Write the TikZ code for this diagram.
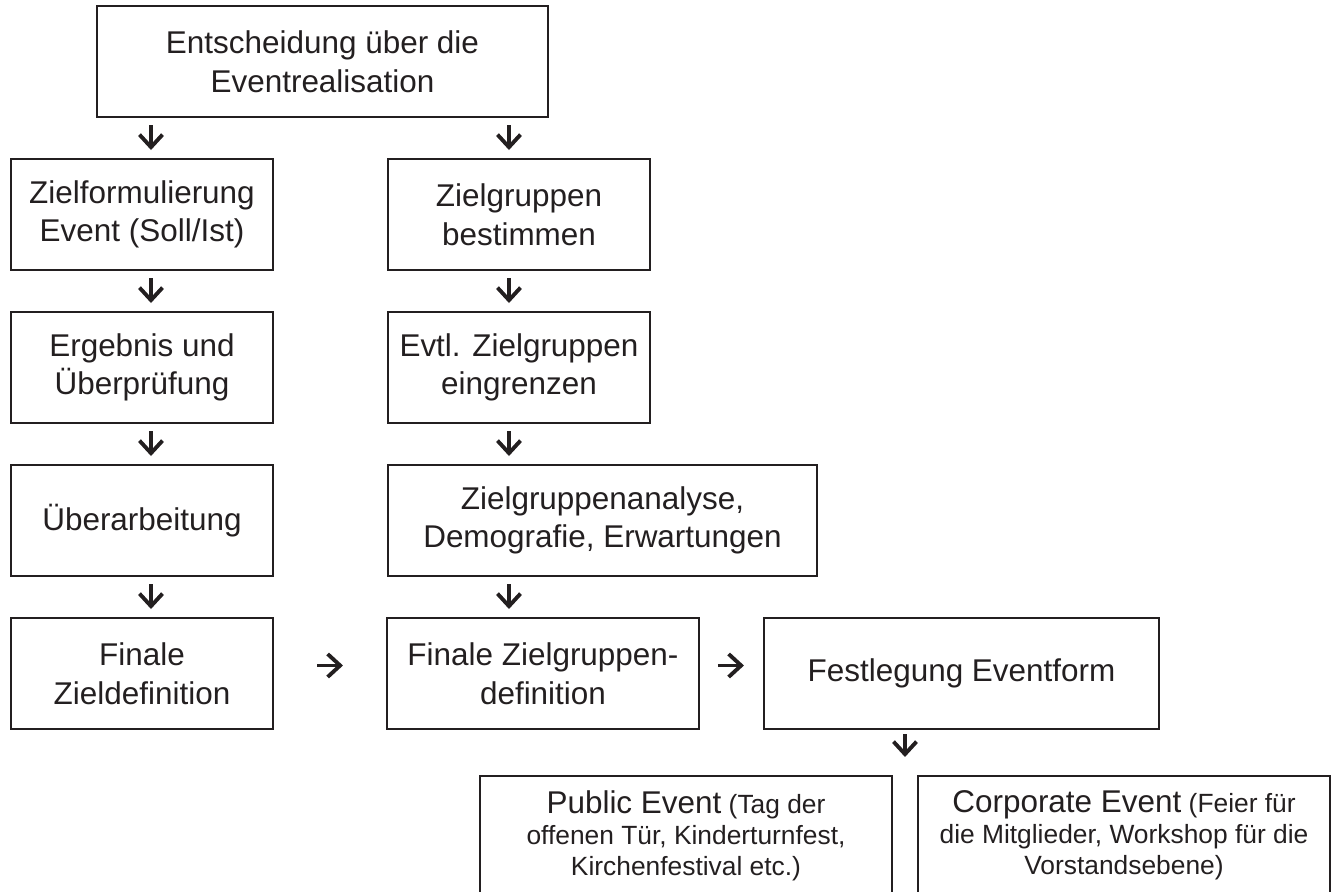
\documentclass[tikz,border=0pt]{standalone}
\usepackage{fontspec}
\setmainfont{Liberation Sans}
\usetikzlibrary{arrows.meta, positioning, calc}
\definecolor{linie}{RGB}{35,31,32}

\begin{document}
\begin{tikzpicture}[
        node distance=0.42cm and 1.15cm,
        % Kaesten
        kasten/.style={
                rectangle,
                draw=linie,
                line width=0.8pt,
                minimum width=2.62cm,
                minimum height=1.11cm,
                inner sep=0pt,
                outer sep=0pt,
                align=center,
                text=linie,
                font=\fontsize{8.95}{11}\selectfont
            },
        % Kaesten unten (kleine Schrift)
        typkasten/.style={
                kasten,
                anchor=north west,
                minimum width=4.12cm,
                minimum height=1.19cm,
                font=\fontsize{7.5}{8.8}\selectfont
            },
        % Pfeile
        pfeil/.style={
                -{Straight Barb[length=1.25mm, width=2.3mm]},
                line width=1.1pt,
                color=linie
            }
    ]

    \useasboundingbox (0,0) rectangle (13.38,-8.92);
    \clip (0,0) rectangle (13.38,-8.92);

    % ENTSCHEIDUNG (oben)
    \node[kasten, minimum width=4.51cm] (entscheidung) at (3.225,-0.615) {Entscheidung über die\\Eventrealisation};

    % ZIELE (links)
    \node[kasten] (ziel1) at (1.42,-2.145) {Zielformulierung\\Event (Soll/Ist)};
    \node[kasten, below=of ziel1] (ziel2) {Ergebnis und\\Überprüfung};
    \node[kasten, below=of ziel2] (ziel3) {Überarbeitung};
    \node[kasten, below=of ziel3] (ziel4) {Finale\\Zieldefinition};

    % ZIELGRUPPEN (Mitte)
    \node[kasten, right=of ziel1] (gruppe1) {Zielgruppen\\bestimmen};
    \node[kasten, below=of gruppe1] (gruppe2) {Evtl. Zielgruppen\\eingrenzen};
    \node[kasten, minimum width=4.29cm, below=of gruppe2, xshift=0.835cm] (gruppe3) {Zielgruppenanalyse,\\Demografie, Erwartungen};
    \node[kasten, minimum width=3.12cm, right=1.14cm of ziel4] (gruppe4) {Finale Zielgruppen-\\definition};

    % EVENTFORM (rechts)
    \node[kasten, minimum width=3.95cm, right=0.65cm of gruppe4] (festlegung) {Festlegung Eventform};

    % EVENTTYPEN (unten)
    \node[typkasten] (public) at (4.80,-7.76) {{\fontsize{8.95}{8.8}\selectfont Public Event} (Tag der\\offenen Tür, Kinderturnfest,\\Kirchenfestival etc.)};
    \node[typkasten] (corporate) at (9.18,-7.76) {{\fontsize{8.95}{8.8}\selectfont Corporate Event} (Feier für\\die Mitglieder, Workshop für die\\Vorstandsebene)};

    % PFEILE
    \coordinate (spalteL) at (1.51,0);
    \coordinate (spalteM) at (5.09,0);
    \coordinate (eventtyp) at ($(public.north east)!0.5!(corporate.north west)$);

    \foreach \von/\nach in {entscheidung/ziel1, ziel1/ziel2, ziel2/ziel3, ziel3/ziel4}
        \draw[pfeil, shorten <=0.08cm, shorten >=0.09cm] (\von.south -| spalteL) -- (\nach.north -| spalteL);
    \foreach \von/\nach in {entscheidung/gruppe1, gruppe1/gruppe2, gruppe2/gruppe3, gruppe3/gruppe4}
        \draw[pfeil, shorten <=0.08cm, shorten >=0.09cm] (\von.south -| spalteM) -- (\nach.north -| spalteM);

    \draw[pfeil, shorten <=0.44cm, shorten >=0.44cm] ([yshift=0.08cm]ziel4.east) -- ([yshift=0.08cm]gruppe4.west);
    \draw[pfeil, shorten <=0.19cm, shorten >=0.20cm] ([yshift=0.08cm]gruppe4.east) -- ([yshift=0.08cm]festlegung.west);
    \draw[pfeil, shorten <=0.05cm, shorten >=0.19cm] (festlegung.south -| eventtyp) -- (eventtyp);

\end{tikzpicture}
\end{document}
